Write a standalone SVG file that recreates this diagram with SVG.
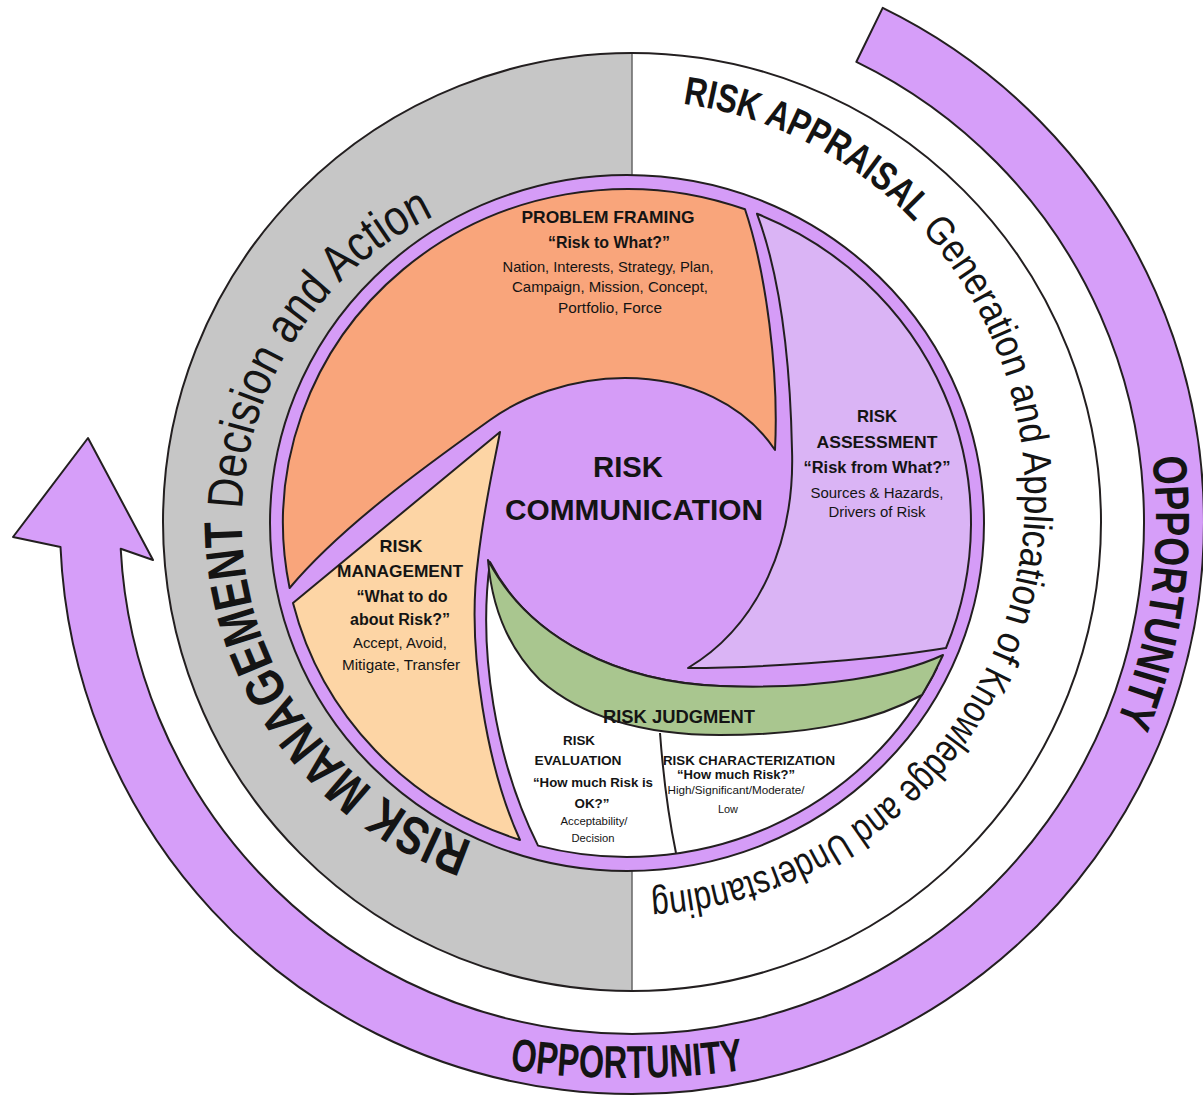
<svg xmlns="http://www.w3.org/2000/svg" width="1203" height="1096" viewBox="0 0 1203 1096">
<style>
.ol{stroke:#231f20;stroke-width:2;stroke-linejoin:round}
.t{font-family:"Liberation Sans Narrow","Liberation Sans",Arial,sans-serif;fill:#141414}
.b{font-weight:bold}
.c{text-anchor:middle}
</style>
<defs>
<path id="oppBottom" d="M327,1023.3 A850,850 0 0 0 927,1023.3"/>
<path id="oppRight" d="M1033.4,185.2 A524,524 0 0 1 932.6,951.2"/>
<path id="appr" d="M628,100 A397,397 0 1 1 559.1,888"/>
<path id="mgmt" d="M521.3,853.9 A338,338 0 0 1 492.5,194.5"/>
</defs>
<rect width="1203" height="1096" fill="#fff"/>
<g id="outer-ring">
<path d="M632,53 A469,469 0 0 0 632,991 Z" fill="#c6c6c6"/>
<path d="M632,53 A469,469 0 0 1 632,991 Z" fill="#fff"/>
<line x1="632" y1="53" x2="632" y2="991" stroke="#666" stroke-width="1.5"/>
<circle cx="632" cy="522" r="469" fill="none" class="ol"/>
<text class="t" font-size="40"><textPath href="#appr" startOffset="55"><tspan class="b" textLength="265" lengthAdjust="spacingAndGlyphs">RISK APPRAISAL</tspan><tspan textLength="468" lengthAdjust="spacingAndGlyphs"> Generation and Application of</tspan><tspan textLength="436" lengthAdjust="spacingAndGlyphs"> Knowledge and Understanding</tspan></textPath></text>
<text class="t"><textPath href="#mgmt" startOffset="50"><tspan class="b" font-size="54" textLength="422" lengthAdjust="spacingAndGlyphs">RISK MANAGEMENT</tspan><tspan font-size="50" textLength="380" lengthAdjust="spacingAndGlyphs"> Decision and Action</tspan></textPath></text>
</g>
<g id="opportunity-arrow">
<path d="M882.7,7.9 A572,572 0 1 1 60.5,547 L13,537 L88,438 L153,560 L120.7,548.8 A512,512 0 1 0 856.4,61.8 Z" fill="#d69ef9" class="ol"/>
<text class="t b" font-size="46"><textPath href="#oppBottom" startOffset="189" textLength="235" lengthAdjust="spacingAndGlyphs">OPPORTUNITY</textPath></text>
<text class="t b" font-size="48"><textPath href="#oppRight" startOffset="301" textLength="270" lengthAdjust="spacingAndGlyphs">OPPORTUNITY</textPath></text>
</g>
<g id="risk-communication">
<ellipse cx="627" cy="523" rx="357" ry="348" fill="#d59cf7" class="ol"/>
<text class="t b c" font-size="29" x="628" y="477" textLength="70" lengthAdjust="spacingAndGlyphs">RISK</text>
<text class="t b c" font-size="29" x="634" y="520" textLength="258" lengthAdjust="spacingAndGlyphs">COMMUNICATION</text>
</g>
<g id="problem-framing">
<path d="M289.6,588 A344,334 0 0 1 745,209.3 C766,272 779,372 775,450 C745,405 690,378 625,378 C570,378 520,398 490,420 C420,470 340,528 289.6,588 Z" fill="#f9a57b" class="ol"/>
<text class="t b c" font-size="17" x="608" y="223" textLength="173" lengthAdjust="spacingAndGlyphs">PROBLEM FRAMING</text>
<text class="t b c" font-size="16.5" x="609" y="248" textLength="122" lengthAdjust="spacingAndGlyphs">“Risk to What?”</text>
<text class="t c" font-size="14.5" x="608" y="272" textLength="211" lengthAdjust="spacingAndGlyphs">Nation, Interests, Strategy, Plan,</text>
<text class="t c" font-size="14.5" x="610" y="292" textLength="196" lengthAdjust="spacingAndGlyphs">Campaign, Mission, Concept,</text>
<text class="t c" font-size="14.5" x="610" y="313" textLength="104" lengthAdjust="spacingAndGlyphs">Portfolio, Force</text>
</g>
<g id="risk-assessment">
<path d="M757,213.8 A344,334 0 0 1 946,648 C860,662 750,668 688,668 C760,625 795,540 792,450 C790,350 778,270 757,213.8 Z" fill="#dab4f5" class="ol"/>
<text class="t b c" font-size="17" x="877" y="422" textLength="40" lengthAdjust="spacingAndGlyphs">RISK</text>
<text class="t b c" font-size="17" x="877" y="448" textLength="121" lengthAdjust="spacingAndGlyphs">ASSESSMENT</text>
<text class="t b c" font-size="16" x="877" y="473" textLength="147" lengthAdjust="spacingAndGlyphs">“Risk from What?”</text>
<text class="t c" font-size="14" x="877" y="498" textLength="133" lengthAdjust="spacingAndGlyphs">Sources &amp; Hazards,</text>
<text class="t c" font-size="14" x="877" y="517" textLength="97" lengthAdjust="spacingAndGlyphs">Drivers of Risk</text>
</g>
<g id="risk-management">
<path d="M500,432 Q400,515 293,603 A344,334 0 0 0 520,840 C488,770 466,650 478,560 C485,500 495,460 500,432 Z" fill="#fdd5a5" class="ol"/>
<text class="t b c" font-size="17" x="401" y="552" textLength="43" lengthAdjust="spacingAndGlyphs">RISK</text>
<text class="t b c" font-size="17" x="400" y="577" textLength="126" lengthAdjust="spacingAndGlyphs">MANAGEMENT</text>
<text class="t b c" font-size="16" x="402" y="602" textLength="91" lengthAdjust="spacingAndGlyphs">“What to do</text>
<text class="t b c" font-size="16" x="400" y="625" textLength="100" lengthAdjust="spacingAndGlyphs">about Risk?”</text>
<text class="t c" font-size="14" x="400" y="648" textLength="94" lengthAdjust="spacingAndGlyphs">Accept, Avoid,</text>
<text class="t c" font-size="14" x="401" y="670" textLength="118" lengthAdjust="spacingAndGlyphs">Mitigate, Transfer</text>
</g>
<g id="risk-evaluation-characterization">
<path d="M490,562 C478,650 495,760 538,845.6 A344,334 0 0 0 936.9,668 C900,680 820,690 720,686 C620,682 530,640 490,562 Z" fill="#fff" class="ol"/>
<path d="M660,733 Q665,800 676,853" fill="none" class="ol"/>
<text class="t b c" font-size="12.5" x="579" y="745" textLength="32" lengthAdjust="spacingAndGlyphs">RISK</text>
<text class="t b c" font-size="12.5" x="578" y="765" textLength="87" lengthAdjust="spacingAndGlyphs">EVALUATION</text>
<text class="t b c" font-size="12" x="593" y="787" textLength="120" lengthAdjust="spacingAndGlyphs">“How much Risk is</text>
<text class="t b c" font-size="12" x="592" y="808" textLength="35" lengthAdjust="spacingAndGlyphs">OK?”</text>
<text class="t c" font-size="11" x="594" y="825" textLength="67" lengthAdjust="spacingAndGlyphs">Acceptability/</text>
<text class="t c" font-size="11" x="593" y="842" textLength="43" lengthAdjust="spacingAndGlyphs">Decision</text>
<text class="t b c" font-size="13" x="749" y="765" textLength="172" lengthAdjust="spacingAndGlyphs">RISK CHARACTERIZATION</text>
<text class="t b c" font-size="12" x="736" y="779" textLength="118" lengthAdjust="spacingAndGlyphs">“How much Risk?”</text>
<text class="t c" font-size="10.5" x="736" y="794" textLength="137" lengthAdjust="spacingAndGlyphs">High/Significant/Moderate/</text>
<text class="t c" font-size="10.5" x="728" y="813" textLength="20" lengthAdjust="spacingAndGlyphs">Low</text>
</g>
<g id="risk-judgment">
<path d="M488,560 C530,640 620,682 720,686 C820,690 900,675 943,655 A344,334 0 0 1 922,695 C880,718 820,735 720,735 C640,735 580,715 540,680 C510,650 492,610 488,560 Z" fill="#a9c68f" class="ol"/>
<text class="t b c" font-size="18" x="679" y="723" textLength="152" lengthAdjust="spacingAndGlyphs">RISK JUDGMENT</text>
</g>
</svg>
